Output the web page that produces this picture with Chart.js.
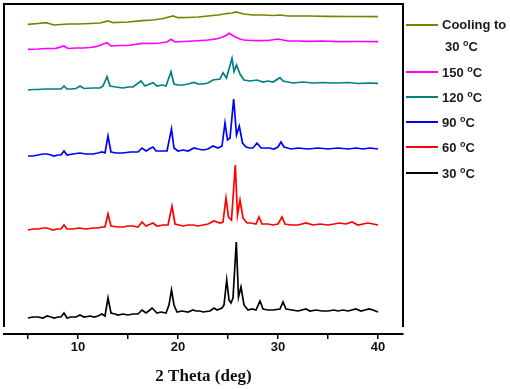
<!DOCTYPE html>
<html>
<head>
<meta charset="utf-8">
<script src="https://cdn.jsdelivr.net/npm/chart.js@4/dist/chart.umd.min.js"></script>
<style>
  body { margin: 0; background: #fff; }
  #wrap { position: relative; width: 510px; height: 389px; }
  #legend { position: absolute; left: 406px; top: 0; font: bold 13px "Liberation Sans", Arial, sans-serif; color: #1a1a1a; }
  .item { position: absolute; left: 0; white-space: nowrap; }
  .sw { position: absolute; left: 0; width: 32px; height: 2px; }
  .lab { position: absolute; left: 36px; top: -8px; }
  .lab sup { font-size: 9px; vertical-align: 5px; }
</style>
</head>
<body>
<div id="wrap">
  <canvas id="xrd" width="510" height="389"></canvas>
  <div id="legend"></div>
</div>
<script>
// 2 theta positions and intensities (a.u., offset stacked) for each temperature
var theta30 = [5.0, 5.5, 6.0, 6.5, 6.9, 7.3, 7.6, 8.0, 8.3, 8.6, 8.9, 9.3, 9.8, 10.2, 10.6, 11.2, 11.6, 12.0, 12.4, 12.7, 13.0, 13.3, 13.7, 14.0, 14.5, 15.0, 15.5, 16.0, 16.4, 16.8, 17.2, 17.4, 17.6, 17.9, 18.3, 18.8, 19.1, 19.35, 19.6, 19.9, 20.4, 21.0, 21.5, 21.8, 22.2, 22.5, 23.2, 23.6, 23.9, 24.4, 24.6, 24.87, 25.1, 25.3, 25.5, 25.83, 26.05, 26.3, 26.6, 27.0, 27.4, 27.8, 28.2, 28.5, 29.0, 29.5, 30.2, 30.5, 30.8, 31.4, 32.0, 32.8, 33.2, 33.8, 34.4, 35.0, 35.6, 36.0, 36.5, 37.0, 37.8, 38.3, 38.7, 39.1, 39.5, 40.0];
var int30 = [16, 17, 17, 16, 18, 17, 16, 17, 17, 21, 16, 17, 17, 19, 17, 18, 17, 18, 20, 18, 36, 21, 20, 19, 20, 19, 20, 20, 24, 21, 24, 26, 24, 21, 22, 21, 29, 44, 29, 22, 23, 22, 24, 23, 23, 22, 23, 26, 24, 26, 29, 54, 34, 31, 36, 92, 37, 47, 29, 24, 25, 24, 33, 25, 24, 24, 25, 32, 25, 24, 23, 25, 23, 24, 23, 23, 24, 23, 24, 23, 25, 23, 24, 25, 24, 22];

var theta60 = [5.0, 5.5, 6.0, 6.5, 6.9, 7.5, 7.9, 8.3, 8.6, 8.9, 9.5, 10.1, 10.8, 11.5, 12.0, 12.4, 12.7, 13.0, 13.3, 14.0, 14.5, 15.0, 15.5, 16.0, 16.4, 16.8, 17.5, 17.9, 18.5, 19.0, 19.4, 19.7, 20.1, 20.5, 21.0, 21.5, 22.0, 22.5, 23.0, 23.6, 24.2, 24.5, 24.8, 25.05, 25.35, 25.73, 25.95, 26.2, 26.5, 26.9, 27.3, 27.8, 28.1, 28.4, 29.0, 29.5, 30.0, 30.4, 30.7, 31.3, 32.0, 32.8, 33.5, 34.2, 35.0, 35.6, 36.1, 36.8, 37.4, 38.0, 38.5, 39.0, 39.5, 40.0];
var int60 = [104, 105, 105, 106, 106, 104, 105, 105, 109, 105, 105, 106, 105, 106, 106, 107, 107, 120, 108, 107, 107, 108, 108, 107, 112, 108, 111, 108, 109, 109, 128, 110, 109, 108, 109, 109, 108, 109, 110, 113, 111, 112, 136, 117, 114, 169, 119, 134, 116, 111, 111, 110, 117, 110, 110, 109, 110, 117, 110, 109, 109, 111, 109, 110, 109, 110, 111, 110, 112, 109, 110, 111, 110, 109];

var theta90 = [5.0, 5.5, 6.0, 6.5, 6.9, 7.3, 7.6, 8.0, 8.3, 8.6, 8.9, 9.5, 10.2, 10.8, 11.5, 12.0, 12.4, 12.7, 13.0, 13.3, 13.8, 14.5, 15.2, 16.0, 16.4, 16.8, 17.3, 17.5, 17.8, 18.3, 18.9, 19.35, 19.6, 20.0, 20.5, 21.0, 21.6, 22.0, 22.5, 23.0, 23.5, 24.0, 24.2, 24.4, 24.7, 24.95, 25.2, 25.57, 25.85, 26.13, 26.45, 26.8, 27.2, 27.5, 27.9, 28.3, 28.7, 29.1, 29.6, 30.0, 30.3, 30.6, 31.3, 32.0, 33.0, 34.0, 35.0, 36.0, 37.0, 37.8, 38.5, 39.2, 40.0];
var int90 = [178, 178, 179, 180, 180, 179, 178, 179, 179, 183, 179, 180, 181, 180, 180, 181, 182, 181, 198, 182, 181, 181, 182, 182, 186, 183, 186, 187, 183, 183, 183, 205, 186, 183, 184, 183, 186, 185, 184, 185, 188, 186, 187, 188, 211, 194, 196, 235, 199, 208, 191, 187, 186, 186, 191, 186, 186, 186, 185, 187, 192, 187, 185, 186, 185, 186, 185, 186, 185, 186, 185, 186, 185];

var theta120 = [5.0, 5.5, 6.0, 6.7, 7.5, 8.3, 8.6, 8.9, 9.3, 9.8, 10.2, 10.6, 11.4, 12.2, 12.5, 12.9, 13.2, 13.8, 14.5, 15.0, 15.5, 16.3, 16.7, 17.5, 17.9, 18.4, 18.8, 19.3, 19.6, 20.0, 20.5, 21.0, 21.6, 22.0, 22.5, 23.0, 23.5, 24.2, 24.5, 24.85, 25.4, 25.6, 25.85, 26.2, 26.6, 27.2, 27.9, 28.5, 29.0, 29.5, 30.2, 30.5, 31.0, 31.5, 32.5, 33.5, 34.5, 35.3, 36.0, 37.0, 38.0, 39.0, 40.0];
var int120 = [244, 244.5, 244.5, 245, 245, 245, 248, 245, 245, 245.5, 248, 245.5, 246, 246, 248, 257.3, 248, 247, 246, 247, 247, 253, 248, 251.3, 248, 249, 248, 262.3, 250, 249, 249, 250, 251.5, 250, 250, 251, 254, 255, 261.3, 256, 275.7, 262.3, 269, 260, 254, 253, 254, 252, 253, 252, 256.3, 253, 252, 251, 252, 251, 251.5, 251, 251, 251.5, 250.5, 251, 250.7];

var theta150 = [5.0, 6.0, 6.8, 7.8, 8.6, 9.0, 9.8, 10.5, 11.2, 11.8, 12.9, 13.3, 14.2, 15.0, 16.4, 17.5, 18.2, 18.9, 19.3, 19.7, 20.6, 21.5, 22.3, 23.0, 23.5, 24.0, 24.4, 24.8, 25.1, 25.4, 25.8, 26.2, 26.6, 27.3, 28.0, 29.0, 30.0, 31.0, 32.0, 33.0, 34.5, 36.0, 38.0, 40.0];
var int150 = [284.7, 285, 285.5, 285.7, 288, 285.5, 286, 286, 286.5, 287.3, 291.3, 288, 288.5, 288.5, 290.7, 290.5, 291, 292, 294.7, 292, 292.5, 293, 293.5, 294, 294.7, 295.5, 296.7, 298.5, 300.7, 299, 296.7, 295, 294, 293.5, 293.3, 293.5, 295, 293, 293, 292.7, 293, 292.3, 292.5, 292.3];

var thetaCool = [5.0, 6.0, 6.8, 7.6, 9.0, 10.0, 11.2, 12.2, 13.0, 13.5, 15.0, 16.4, 17.5, 18.5, 19.5, 20.0, 21.0, 22.0, 23.0, 24.0, 24.6, 25.0, 25.4, 25.8, 26.2, 26.6, 27.5, 28.5, 29.5, 30.2, 31.0, 33.0, 35.0, 37.5, 40.0];
var intCool = [309.7, 310.5, 311.3, 309, 310, 310, 310.5, 311, 313, 311.3, 312, 313.3, 314, 315.5, 318, 316.3, 316.5, 317, 318, 319, 320, 320.7, 321, 322, 321, 320, 319, 319, 318.5, 319, 318, 318, 317.7, 317.5, 317.3];

var xTicks = [10, 20, 30, 40];

var seriesNames = ['Cooling to|30 °C', '150 °C', '120 °C', '90 °C', '60 °C', '30 °C'];
var seriesColors = ['#808000', '#FF00FF', '#008080', '#0000FF', '#FF0000', '#000000'];
var seriesTheta = [thetaCool, theta150, theta120, theta90, theta60, theta30];
var seriesInt = [intCool, int150, int120, int90, int60, int30];

function toPoints(xs, ys) {
  return xs.map(function(x, i) { return {x: x, y: ys[i]}; });
}

var datasets = seriesNames.map(function(name, i) {
  return {
    label: name,
    data: toPoints(seriesTheta[i], seriesInt[i]),
    borderColor: seriesColors[i],
    borderWidth: 1.7,
    pointRadius: 0,
    tension: 0,
    fill: false
  };
});

// left / top / right frame lines (left and right stop a little above the x axis)
var framePlugin = {
  id: 'frame',
  afterDraw: function(chart) {
    var a = chart.chartArea, c = chart.ctx;
    c.save();
    c.strokeStyle = '#000';
    c.lineWidth = 2;
    c.beginPath();
    c.moveTo(a.left, a.bottom - 7);
    c.lineTo(a.left, a.top);
    c.lineTo(a.right, a.top);
    c.lineTo(a.right, a.bottom - 7);
    c.stroke();
    c.restore();
  }
};

var ctx = document.getElementById('xrd');
var xrdChart = new Chart(ctx, {
  type: 'line',
  data: { datasets: datasets },
  plugins: [framePlugin],
  options: {
    responsive: false,
    animation: false,
    layout: { padding: { left: 4, right: 107, top: 4, bottom: 2 } },
    plugins: { legend: { display: false }, tooltip: { enabled: false } },
    scales: {
      x: {
        type: 'linear',
        min: 2.6,
        max: 42.5,
        border: { display: true, color: '#000', width: 2 },
        grid: { drawOnChartArea: false, drawTicks: true, tickLength: 5, color: '#000', lineWidth: 1.5 },
        ticks: {
          stepSize: 5,
          includeBounds: false,
          autoSkip: false,
          maxRotation: 0,
          color: '#111',
          padding: 1,
          font: { family: '"Liberation Sans", Arial, sans-serif', size: 13, weight: 'bold' },
          callback: function(v) { return xTicks.indexOf(v) >= 0 ? v : ''; }
        },
        title: {
          display: true,
          text: '2 Theta (deg)',
          color: '#111',
          padding: { top: 10, bottom: 0 },
          font: { family: '"Liberation Serif", "Times New Roman", serif', size: 17, weight: 'bold' }
        }
      },
      y: {
        display: false,
        min: 0,
        max: 330
      }
    }
  }
});

// legend on the right
var legendTop = [25, 72, 97, 122, 147, 173];
var legend = document.getElementById('legend');
seriesNames.forEach(function(name, i) {
  var item = document.createElement('div');
  item.className = 'item';
  item.style.top = legendTop[i] + 'px';
  var sw = document.createElement('div');
  sw.className = 'sw';
  sw.style.background = seriesColors[i];
  sw.style.top = '-1px';
  item.appendChild(sw);
  var parts = name.split('|');
  parts.forEach(function(p, j) {
    var lab = document.createElement('div');
    lab.className = 'lab';
    if (j > 0) { lab.style.top = (-8 + 21 * j) + 'px'; lab.style.left = '39px'; }
    lab.innerHTML = p.replace(' °C', ' <sup>o</sup>C');
    item.appendChild(lab);
  });
  legend.appendChild(item);
});
</script>
</body>
</html>
